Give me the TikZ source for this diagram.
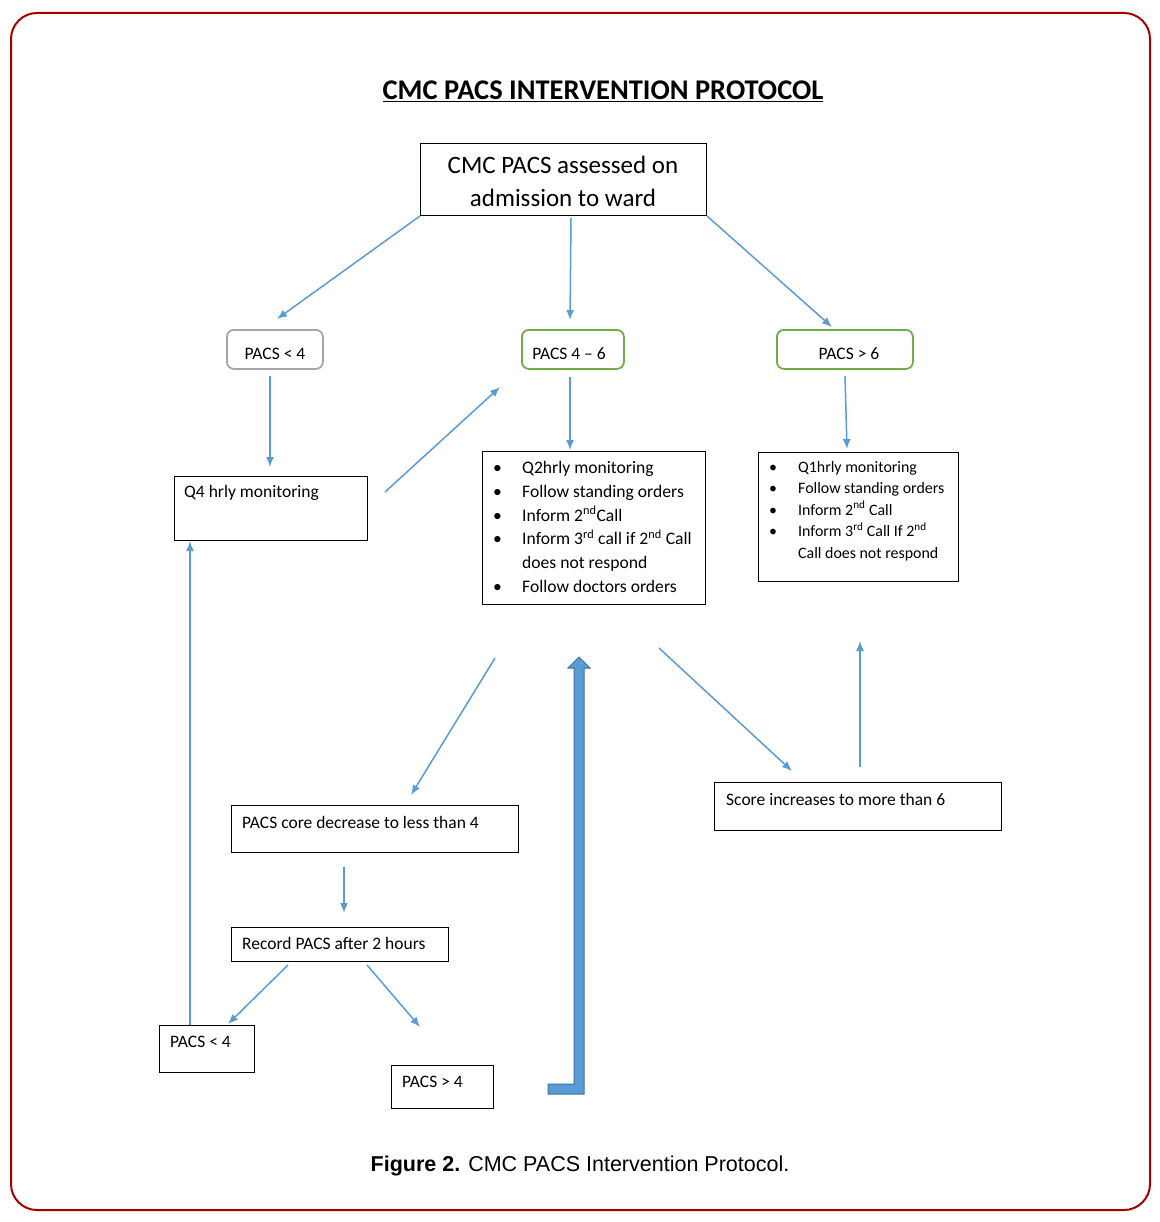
\documentclass[tikz,border=0pt]{standalone}
\usepackage{fontspec}
\setmainfont{Carlito}
\newfontfamily\capfont{Liberation Sans}
\usetikzlibrary{arrows.meta,calc}
\definecolor{arrowblue}{RGB}{91,155,213}
\definecolor{blockedge}{RGB}{65,113,156}
\definecolor{framered}{RGB}{165,0,0}
\definecolor{pgreen}{RGB}{112,173,71}
\definecolor{pgray}{RGB}{166,166,166}
\begin{document}
\begin{tikzpicture}[x=1pt,y=-1pt,
 pbox/.style={draw=black, line width=1pt, rectangle, inner sep=0pt, anchor=north west},
 rbox/.style={rounded corners=7pt, line width=1.8pt, rectangle, inner sep=0pt, anchor=north west},
 txt/.style={inner sep=0pt, anchor=base west, font=\fontsize{17.5}{20}\selectfont},
 flow/.style={draw=arrowblue, line width=1.5pt, -{Latex[length=10pt,width=8pt]}},
]
\useasboundingbox (0,0) rectangle (1159,1222);
% frame
\draw[framered, line width=2pt, rounded corners=26pt] (11,13) rectangle (1150,1210);

% title
\node[inner sep=0pt, anchor=base] (title) at (603,100) {\fontsize{28.5}{34}\selectfont\bfseries\underline{CMC PACS INTERVENTION PROTOCOL}};

% top box
\node[pbox, minimum width=286, minimum height=72] (top) at (420,143) {};
\node[inner sep=0pt, anchor=base, align=center, font=\fontsize{25}{33}\selectfont] (topt) at (563,207) {CMC PACS assessed on\\admission to ward};

% score boxes
\node[rbox, draw=pgray, minimum width=96, minimum height=39] (lt4) at (226,329) {};
\node[txt, anchor=base] (lt4t) at (275,359) {PACS < 4};
\node[rbox, draw=pgreen, minimum width=102, minimum height=39] (mid) at (521,329) {};
\node[txt, anchor=base] (midt) at (569,359) {PACS 4 -- 6};
\node[rbox, draw=pgreen, minimum width=136, minimum height=39] (gt6) at (776,329) {};
\node[txt, anchor=base] (gt6t) at (849,359) {PACS > 6};

% Q4 box
\node[pbox, minimum width=193, minimum height=64] (q4) at (174,476) {};
\node[txt] (q4t) at (184,497.5) {Q4 hrly monitoring};

% middle list box
\node[pbox, minimum width=223, minimum height=153] (midbox) at (482,451) {};
\node[txt] (midlist) at (493,473.5) {\fontsize{17.6}{23.8}\selectfont\begin{tabular}[t]{@{}p{29pt}@{}l@{}}
\textbullet & Q2hrly monitoring\\
\textbullet & Follow standing orders\\
\textbullet & Inform 2\textsuperscript{nd}Call\\
\textbullet & Inform 3\textsuperscript{rd} call if 2\textsuperscript{nd} Call\\
 & does not respond\\
\textbullet & Follow doctors orders
\end{tabular}};

% right list box
\node[pbox, minimum width=200, minimum height=129] (rbox) at (758,452) {};
\node[txt] (rlist) at (769,472) {\fontsize{15.9}{21.5}\selectfont\begin{tabular}[t]{@{}p{29pt}@{}l@{}}
\textbullet & Q1hrly monitoring\\
\textbullet & Follow standing orders\\
\textbullet & Inform 2\textsuperscript{nd} Call\\
\textbullet & Inform 3\textsuperscript{rd} Call If 2\textsuperscript{nd}\\
 & Call does not respond
\end{tabular}};

% lower boxes
\node[pbox, minimum width=287, minimum height=47] (dec) at (231,805) {};
\node[txt] (dect) at (242,828.5) {PACS core decrease to less than 4};
\node[pbox, minimum width=217, minimum height=34] (rec) at (231,927) {};
\node[txt] (rect) at (242,949.5) {Record PACS after 2 hours};
\node[pbox, minimum width=95, minimum height=47] (blt) at (159,1025) {};
\node[txt] (bltt) at (170,1047.5) {PACS < 4};
\node[pbox, minimum width=102, minimum height=43] (bgt) at (391,1065) {};
\node[txt] (bgtt) at (402,1087.5) {PACS > 4};
\node[pbox, minimum width=287, minimum height=48] (inc) at (714,782) {};
\node[txt] (inct) at (726,805.5) {Score increases to more than 6};

% caption
\node[inner sep=0pt, anchor=base] (cap) at (580,1171) {\capfont\fontsize{21.5}{26}\selectfont\textbf{Figure 2.} CMC PACS Intervention Protocol.};

% free connector ends
\coordinate (a1) at (277,319);
\coordinate (a2s) at (571,218); \coordinate (a2) at (570,320);
\coordinate (a3) at (832,327);
\coordinate (b1s) at (270,376); \coordinate (b1) at (270,467);
\coordinate (b2s) at (385,492); \coordinate (b2) at (500,387);
\coordinate (b3s) at (570,377); \coordinate (b3) at (570,450);
\coordinate (b4s) at (845,376); \coordinate (b4) at (847,449);
\coordinate (c1s) at (495,658); \coordinate (c1) at (411,795);
\coordinate (c2s) at (659,648); \coordinate (c2) at (792,771);
\coordinate (c3s) at (860,767); \coordinate (c3) at (860,641);
\coordinate (d1s) at (344,867); \coordinate (d1) at (344,913);
\coordinate (d2s) at (288,965); \coordinate (d2) at (228,1024);
\coordinate (d3s) at (367,965); \coordinate (d3) at (420,1027);
\coordinate (e1s) at (190,1025); \coordinate (e1) at (190,541);

\draw[flow] (top.south west) -- (a1);
\draw[flow] (a2s) -- (a2);
\draw[flow] (top.south east) -- (a3);
\draw[flow] (b1s) -- (b1);
\draw[flow] (b2s) -- (b2);
\draw[flow] (b3s) -- (b3);
\draw[flow] (b4s) -- (b4);
\draw[flow] (c1s) -- (c1);
\draw[flow] (c2s) -- (c2);
\draw[flow] (c3s) -- (c3);
\draw[flow] (d1s) -- (d1);
\draw[flow] (d2s) -- (d2);
\draw[flow] (d3s) -- (d3);
\draw[flow] (e1s) -- (e1);

% block arrow
\draw[fill=arrowblue, draw=blockedge, line width=1pt, line join=miter]
 (568,668) -- (579,657) -- (590,668) -- (584,668) -- (584,1094) -- (548,1094) -- (548,1084) -- (574,1084) -- (574,668) -- cycle;
\end{tikzpicture}
\end{document}
